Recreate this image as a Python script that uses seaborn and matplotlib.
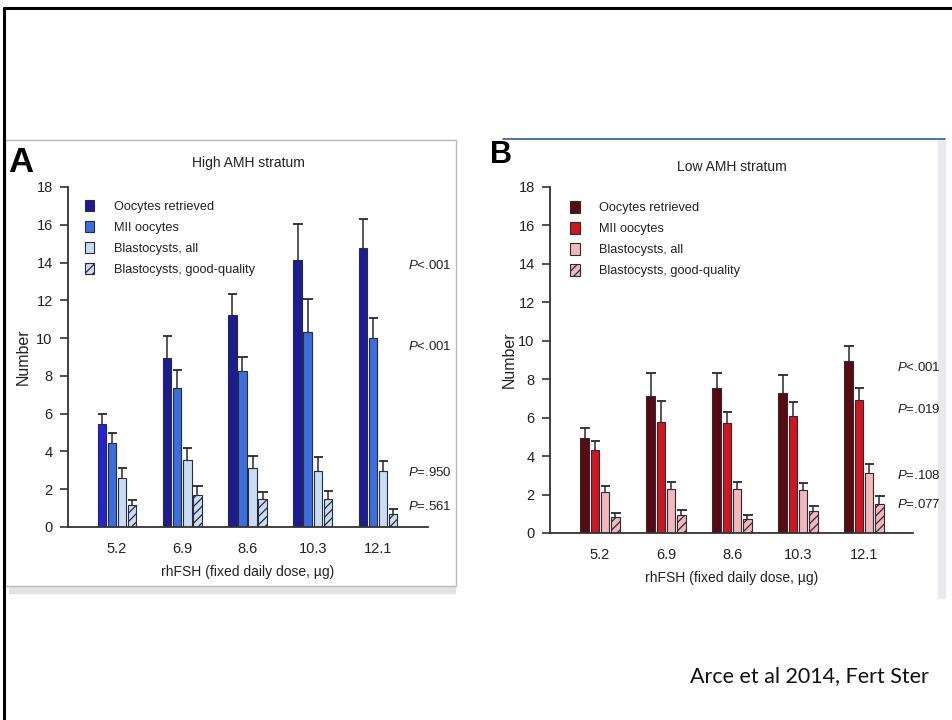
import numpy as np
import pandas as pd
import matplotlib
matplotlib.use("Agg")
import matplotlib.pyplot as plt
from matplotlib.patches import Patch, Rectangle
from matplotlib.lines import Line2D
import seaborn as sns

# data (bar height and top of error bar)
doses = ['5.2', '6.9', '8.6', '10.3', '12.1']
measures = ['Oocytes retrieved', 'MII oocytes', 'Blastocysts, all', 'Blastocysts, good-quality']

high_oocytes = [5.45, 8.95, 11.25, 14.15, 14.75]
high_oocytes_top = [6.0, 10.1, 12.35, 16.05, 16.3]
high_mii = [4.45, 7.35, 8.25, 10.35, 10.0]
high_mii_top = [5.0, 8.3, 9.0, 12.05, 11.05]
high_blast = [2.6, 3.55, 3.15, 2.95, 2.95]
high_blast_top = [3.15, 4.2, 3.75, 3.7, 3.5]
high_good = [1.15, 1.7, 1.5, 1.5, 0.7]
high_good_top = [1.45, 2.15, 1.85, 1.9, 0.95]

low_oocytes = [4.93, 7.13, 7.53, 7.3, 8.95]
low_oocytes_top = [5.45, 8.3, 8.34, 8.22, 9.73]
low_mii = [4.3, 5.8, 5.7, 6.1, 6.92]
low_mii_top = [4.8, 6.88, 6.28, 6.84, 7.56]
low_blast = [2.13, 2.3, 2.3, 2.22, 3.12]
low_blast_top = [2.46, 2.65, 2.65, 2.6, 3.58]
low_good = [0.83, 0.92, 0.73, 1.12, 1.52]
low_good_top = [1.04, 1.21, 0.95, 1.42, 1.9]

high_p_labels = ['<.001', '<.001', '=.950', '=.561']
high_p_y = [13.85, 9.55, 2.9, 1.1]
low_p_labels = ['<.001', '=.019', '=.108', '=.077']
low_p_y = [8.6, 6.4, 3.0, 1.5]

high_colors = ['#1c1c96', '#3b6ee0', '#c9dcf5', '#c9dcf5']
low_colors = ['#5a0b10', '#d0171d', '#f2b7b9', '#f2b7b9']

sns.set_style('white')
plt.rcParams['font.family'] = ['Liberation Sans', 'DejaVu Sans']
plt.rcParams['mathtext.fontset'] = 'custom'
plt.rcParams['mathtext.it'] = 'Liberation Sans:italic'
plt.rcParams['mathtext.rm'] = 'Liberation Sans'
plt.rcParams['hatch.linewidth'] = 0.9

W, H = 953, 720
fig = plt.figure(figsize=(9.53, 7.2), dpi=100)


def fx(x):
    return x / W


def fy(y):
    return 1 - y / H


# slide decorations
fig.add_artist(Line2D([fx(4), fx(4)], [fy(8), 0], color='black', lw=2.2, transform=fig.transFigure))
fig.add_artist(Line2D([fx(4), 1], [fy(8), fy(8)], color='black', lw=2.2, transform=fig.transFigure))
# panel A frame with shadow
fig.add_artist(Rectangle((fx(9), fy(593)), fx(455) - fx(9), fy(140) - fy(593), color='#e2e2e2',
                         transform=fig.transFigure, zorder=0))
fig.add_artist(Rectangle((fx(5), fy(586)), fx(456) - fx(5), fy(140) - fy(586), facecolor='white',
                         edgecolor='#b8b8b8', lw=1.0, transform=fig.transFigure, zorder=0))
# panel B frame
fig.add_artist(Line2D([fx(503), fx(945)], [fy(139), fy(139)], color='#2b5c9a', lw=1.2, transform=fig.transFigure))
fig.add_artist(Rectangle((fx(938), fy(598)), fx(945) - fx(938), fy(140) - fy(598), color='#e8e8ee',
                         transform=fig.transFigure, zorder=0))

TXT = '#222222'


def panel(rect, xlim, title, title_y, ylab_x, xlab_y, leg_xy, letter, letter_xy, letter_size, colors,
          values, tops, p_labels, p_y, p_x, first_color=None):
    ax = fig.add_axes(rect)
    ax.patch.set_alpha(0)
    rows = []
    for m, vals in zip(measures, values):
        for d, v in zip(doses, vals):
            rows.append({'dose': d, 'measure': m, 'value': v})
    df = pd.DataFrame(rows)
    edge = '#2a2a3a'
    sns.barplot(data=df, x='dose', y='value', hue='measure', order=doses, hue_order=measures,
                palette=colors, width=0.62, gap=0.15, errorbar=None, legend=False,
                edgecolor=edge, linewidth=0.8, saturation=1, ax=ax)
    if first_color:
        ax.containers[0][0].set_facecolor(first_color)
    for bar in ax.containers[3]:
        bar.set_hatch('////')
    for cont, top in zip(ax.containers, tops):
        xs = np.array([b.get_x() + b.get_width() / 2 for b in cont])
        hs = [b.get_height() for b in cont]
        w = cont[0].get_width()
        ax.vlines(xs, hs, top, color='#2a2a2a', lw=1.1, zorder=1)
        ax.hlines(top, xs - w * 0.5, xs + w * 0.6, color='#2a2a2a', lw=1.3, zorder=3)
    ax.set_xlim(*xlim)
    ax.set_ylim(0, 18)
    ax.set_yticks(range(0, 19, 2))
    sns.despine(ax=ax)
    for s in ['left', 'bottom']:
        ax.spines[s].set_color('#333333')
        ax.spines[s].set_linewidth(1.3)
    ax.tick_params(axis='y', left=True, length=6, width=1.2, color='#333333', pad=5, labelsize=10.5,
                   labelcolor=TXT)
    ax.tick_params(axis='x', bottom=False, pad=7, labelsize=10.5, labelcolor=TXT)
    ax.set_xlabel('rhFSH (fixed daily dose, \u00b5g)', fontsize=10, color=TXT)
    ax.xaxis.label.set_va('center')
    ax.xaxis.set_label_coords(0.5, xlab_y)
    ax.set_ylabel('Number', fontsize=11.5, color=TXT)
    ax.yaxis.label.set_va('center')
    ax.yaxis.set_label_coords(ylab_x, 0.5)
    ax.text(0.5, title_y, title, transform=ax.transAxes, fontsize=10, color=TXT, ha='center', va='center')

    handles = []
    for i, c in enumerate(colors):
        handles.append(Patch(facecolor=c, edgecolor=edge, lw=0.8, hatch='////' if i == 3 else None))
    ax.legend(handles, measures, loc='upper left', bbox_to_anchor=leg_xy, frameon=False,
              fontsize=9.2, handlelength=0.72, handleheight=1.0, handletextpad=1.5,
              labelspacing=0.62, borderaxespad=0, borderpad=0, labelcolor=TXT)

    for lab, y in zip(p_labels, p_y):
        ax.text(p_x, y, r'$\it{P}$' + lab, fontsize=9.5, color=TXT, va='center', ha='left')

    fig.text(fx(letter_xy[0]), fy(letter_xy[1]), letter, fontsize=letter_size, fontweight='bold',
             va='top', ha='left', color='black')
    return ax


# panel A: axis from x=68 to 428 px, y from 187 to 527 px
panel([fx(68), fy(527), fx(428) - fx(68), fy(187) - fy(527)], (-0.751, 4.766),
      'High AMH stratum', 1.071, -0.125, -0.132, (0.048, 0.962), 'A', (8, 146), 25, high_colors,
      [high_oocytes, high_mii, high_blast, high_good],
      [high_oocytes_top, high_mii_top, high_blast_top, high_good_top],
      high_p_labels, high_p_y, 4.46, first_color='#2424d6')

# panel B: axis from x=550 to 913 px, y from 187 to 533 px
panel([fx(550), fy(533), fx(913) - fx(550), fy(187) - fy(533)], (-0.758, 4.742),
      'Low AMH stratum', 1.058, -0.112, -0.130, (0.056, 0.959), 'B', (490, 140), 22, low_colors,
      [low_oocytes, low_mii, low_blast, low_good],
      [low_oocytes_top, low_mii_top, low_blast_top, low_good_top],
      low_p_labels, low_p_y, 4.5)

fig.text(fx(690), fy(676), 'Arce et al 2014, Fert Ster', fontsize=15.5, family=['Lato', 'DejaVu Sans'],
         va='center', ha='left', color='#111111')

fig.savefig('out.png', dpi=100)
